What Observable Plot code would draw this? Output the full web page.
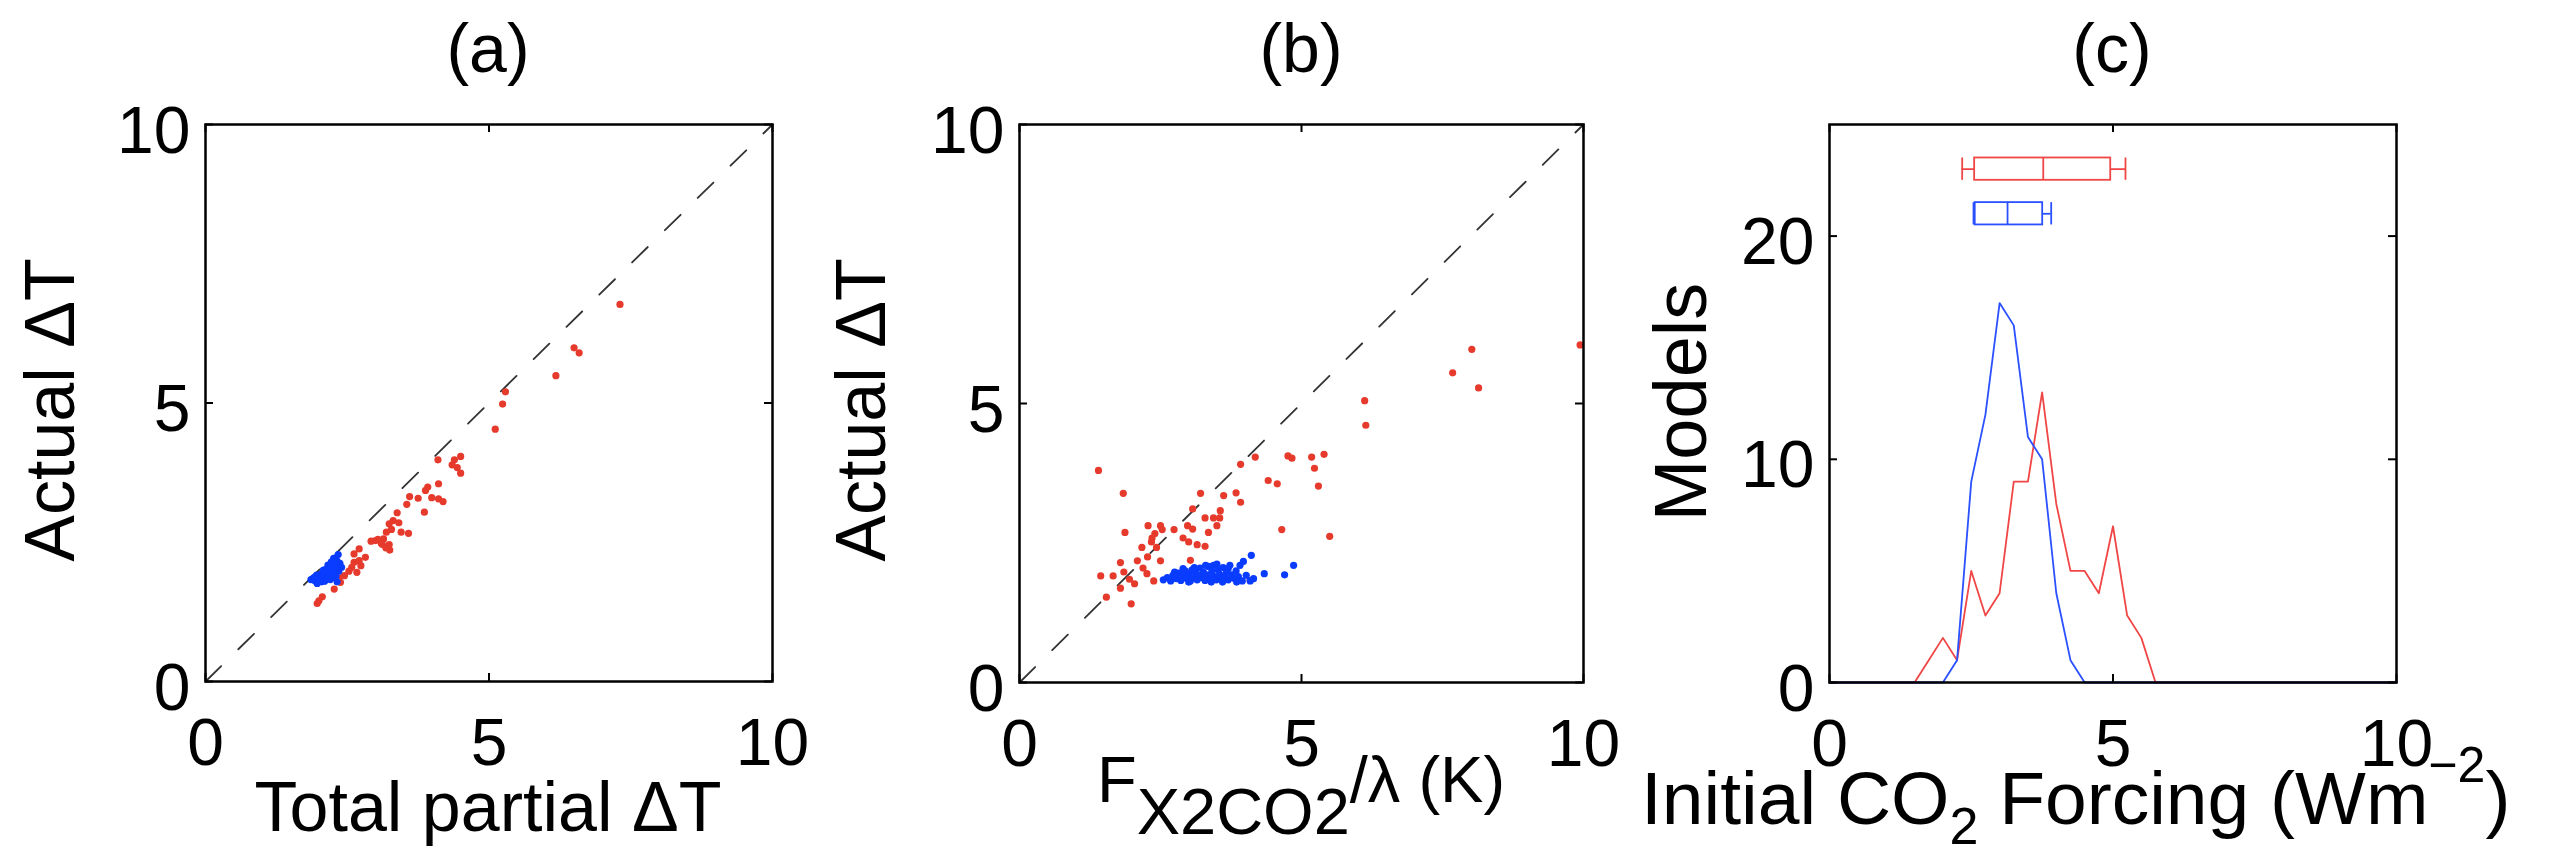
<!DOCTYPE html>
<html><head><meta charset="utf-8">
<script src="https://cdn.jsdelivr.net/npm/d3@7"></script>
<script src="https://cdn.jsdelivr.net/npm/@observablehq/plot@0.6"></script>
<style>
body{margin:0;background:#fff;}
#wrap{position:relative;width:2555px;height:855px;overflow:hidden;background:#fff;}
#wrap > svg{position:absolute;top:0;}
</style></head><body><div id="wrap"></div>
<script>
// ---------- data ----------
const axisTicks = [0, 5, 10];
const countTicks = [0, 10, 20];
const diag = [0, 10];

// panel (a): total partial dT vs actual dT
const redA = [[7.31,6.77],[6.50,5.99],[6.59,5.90],[6.18,5.49],[5.29,5.20],[5.24,4.98],[5.11,4.53],[4.10,3.98],[4.50,4.04],[4.39,3.98],[4.35,3.89],[4.44,3.84],[4.50,3.74],[3.92,3.49],[4.11,3.55],[3.99,3.30],[4.11,3.28],[4.19,3.23],[3.88,3.43],[3.75,3.29],[3.60,3.32],[3.55,3.18],[3.86,3.04],[3.38,3.03],[3.31,2.89],[3.24,2.83],[3.41,2.85],[3.28,2.73],[3.45,2.68],[3.58,2.66],[3.19,2.68],[3.14,2.56],[3.00,2.53],[3.10,2.48],[3.25,2.36],[3.24,2.46],[1.97,1.40],[2.06,1.52],[2.27,1.66],[2.38,1.78],[2.35,1.86],[2.53,1.98],[2.62,2.14],[2.71,2.17],[2.74,2.08],[2.67,1.96],[2.62,2.29],[2.71,2.38],[2.82,2.23],[2.92,2.52],[3.04,2.55],[3.12,2.46],[3.18,2.40],[2.00,1.45],[2.45,1.90],[2.58,2.05]];
const blueA = [[1.86,1.83],[1.90,1.85],[1.93,1.81],[1.95,1.88],[1.97,1.76],[1.98,1.84],[2.00,1.90],[2.02,1.82],[2.04,1.93],[2.06,1.87],[2.08,1.97],[2.10,1.89],[2.12,1.83],[2.13,2.02],[2.15,1.94],[2.17,2.06],[2.19,1.98],[2.20,2.10],[2.22,1.91],[2.24,2.13],[2.25,2.02],[2.27,2.17],[2.28,1.95],[2.30,2.22],[2.34,2.28],[2.33,2.07],[2.35,1.98],[2.37,2.12],[2.40,2.05],[2.32,1.79],[2.05,1.79],[2.10,1.80],[2.15,1.85],[2.20,1.83],[2.25,1.87],[2.30,1.89],[1.96,1.91],[2.08,2.00],[2.16,2.09],[2.22,2.15],[2.26,2.21],[2.18,1.90],[2.28,2.04],[2.32,2.16],[2.12,1.96],[2.04,1.86],[1.92,1.87]];

// panel (b): F_2xCO2/lambda vs actual dT
const redB = [[9.94,6.05],[8.02,5.97],[7.68,5.55],[8.14,5.28],[6.12,5.05],[6.14,4.61],[1.40,3.80],[4.18,4.04],[3.92,3.91],[4.76,4.06],[4.83,4.02],[5.18,4.04],[5.40,4.09],[5.23,3.84],[5.30,3.52],[4.41,3.62],[4.57,3.56],[1.84,3.39],[3.21,3.39],[3.62,3.35],[3.84,3.40],[3.92,3.23],[3.07,3.11],[3.56,3.08],[3.29,2.95],[3.44,2.95],[3.55,2.95],[3.50,2.81],[3.35,2.69],[2.74,2.74],[2.98,2.81],[3.07,2.75],[1.87,2.69],[2.28,2.81],[2.50,2.81],[2.53,2.74],[2.35,2.59],[2.40,2.67],[2.34,2.52],[2.90,2.59],[2.17,2.42],[2.43,2.42],[2.09,2.18],[2.27,2.25],[2.50,2.18],[1.79,2.15],[2.19,2.05],[3.03,2.19],[3.00,2.52],[3.15,2.47],[3.29,2.44],[4.65,2.74],[5.50,2.62],[1.44,1.91],[1.66,1.91],[1.85,1.98],[1.95,1.85],[2.04,1.77],[1.79,1.69],[1.54,1.53],[1.98,1.41],[4.09,1.83],[2.26,1.95],[2.38,1.82]];
const blueB = [[2.55,1.84],[2.62,1.88],[2.68,1.82],[2.72,1.92],[2.78,1.86],[2.82,1.96],[2.86,1.83],[2.90,1.90],[2.94,2.00],[2.97,1.86],[3.00,1.94],[3.03,1.82],[3.06,2.02],[3.09,1.88],[3.12,1.97],[3.15,1.84],[3.18,1.92],[3.20,2.05],[3.23,1.88],[3.26,1.98],[3.29,1.83],[3.32,1.93],[3.35,2.08],[3.38,1.87],[3.41,1.99],[3.44,2.10],[3.46,1.90],[3.49,1.84],[3.52,2.02],[3.55,1.94],[3.58,1.86],[3.61,2.06],[3.64,1.90],[3.67,1.98],[3.70,1.84],[3.73,2.10],[3.76,1.93],[3.80,1.87],[3.84,2.00],[3.88,1.90],[3.91,2.10],[3.95,1.82],[3.97,2.17],[4.02,1.92],[4.09,1.82],[4.11,2.28],[4.15,1.86],[4.34,1.95],[4.70,1.93],[4.86,2.10],[2.75,1.98],[3.10,2.06],[3.30,2.10],[3.50,2.12],[3.60,1.80],[3.00,1.80],[2.90,2.04],[3.70,2.04],[3.40,1.80],[3.85,1.80]];

// panel (c): histogram of initial CO2 forcing (W m-2)
const forcingBins = [0, 1.5, 1.75, 2.0, 2.25, 2.5, 2.75, 3.0, 3.25, 3.5, 3.75, 4.0, 4.25, 4.5, 4.75, 5.0, 5.25, 5.5, 5.75, 10];
const redCounts   = [0, 0, 1, 2, 1, 5, 3, 4, 9, 9, 13, 8, 5, 5, 4, 7, 3, 2, 0, 0];
const blueCounts  = [0, 0, 0, 0, 1, 9, 12, 17, 16, 11, 10, 4, 1, 0, 0, 0, 0, 0, 0, 0];

// box plots (whisker low, q1, median, q3, whisker high) and their row height
const boxNames  = ["red", "blue"];
const boxRow    = [23, 21];
const boxLo     = [2.34, 2.54];
const boxQ1     = [2.56, 2.57];
const boxMedian = [3.77, 3.14];
const boxQ3     = [4.96, 3.76];
const boxHi     = [5.22, 3.91];

// ---------- styles ----------
const RED_DOT = "#e63a2c", BLUE_DOT = "#0a3cff";
const RED_LINE = "#f04646", BLUE_LINE = "#2a50ff";
const FONT = "'Liberation Sans', Arial, Helvetica, sans-serif";
const TICK = 8;

function frameAxes(xt, yt, xd, yd) {
  const tk = {stroke: "#000", strokeWidth: 2};
  return [
    Plot.axisX(xt, {anchor: "bottom", tickSize: 0, tickPadding: 37, fontSize: 66, label: null, tickFormat: d => `${d}`}),
    Plot.axisY(yt, {anchor: "left", tickSize: 0, tickPadding: 15, fontSize: 66, label: null, dy: 7, tickFormat: d => `${d}`}),
    // inward ticks on all four sides
    Plot.ruleX(xt, {x: d => d, y1: yd[0], y2: yd[0], insetTop: -TICK, ...tk}),
    Plot.ruleX(xt, {x: d => d, y1: yd[1], y2: yd[1], insetBottom: -TICK, ...tk}),
    Plot.ruleY(yt, {y: d => d, x1: xd[0], x2: xd[0], insetRight: -TICK, ...tk}),
    Plot.ruleY(yt, {y: d => d, x1: xd[1], x2: xd[1], insetLeft: -TICK, ...tk}),
    Plot.frame({stroke: "#000", strokeWidth: 2.5})
  ];
}

const xDom = [0, 10], yDom = [0, 10], cDom = [0, 25];

function scatter(red, blue, geom) {
  return Plot.plot({
    width: geom.width, height: 855,
    marginLeft: geom.ml, marginRight: geom.mr, marginTop: 124, marginBottom: geom.mb,
    style: {fontFamily: FONT, color: "#000", background: "#fff"},
    x: {domain: xDom},
    y: {domain: yDom},
    marks: [
      Plot.line(diag, {x: d => d, y: d => d, stroke: "#333", strokeWidth: 1.8, strokeDasharray: "22,24"}),
      Plot.dot(red, {x: d => d[0], y: d => d[1], r: 3.6, fill: RED_DOT}),
      Plot.dot(blue, {x: d => d[0], y: d => d[1], r: 3.6, fill: BLUE_DOT}),
      ...frameAxes(axisTicks, axisTicks, xDom, yDom)
    ]
  });
}

const wrap = document.getElementById("wrap");

const pa = scatter(redA, blueA, {width: 850, ml: 205, mr: 78, mb: 174});
pa.style.left = "0px";
wrap.appendChild(pa);

const pb = scatter(redB, blueB, {width: 840, ml: 169, mr: 107, mb: 173});
pb.style.left = "850px";
wrap.appendChild(pb);

const boxes = boxNames.map((name, i) => ({name, row: boxRow[i], lo: boxLo[i], q1: boxQ1[i], med: boxMedian[i], q3: boxQ3[i], hi: boxHi[i]}));
function boxMarks(data, color) {
  const o = {stroke: color, strokeWidth: 1.8};
  return [
    Plot.rect(data, {x1: "q1", x2: "q3", y1: d => d.row - 0.5, y2: d => d.row + 0.5, fill: "none", ...o}),
    Plot.ruleX(data, {x: "med", y1: d => d.row - 0.5, y2: d => d.row + 0.5, ...o}),
    Plot.ruleY(data, {y: "row", x1: "lo", x2: "q1", ...o}),
    Plot.ruleY(data, {y: "row", x1: "q3", x2: "hi", ...o}),
    Plot.ruleX(data, {x: "lo", y1: d => d.row - 0.5, y2: d => d.row + 0.5, ...o}),
    Plot.ruleX(data, {x: "hi", y1: d => d.row - 0.5, y2: d => d.row + 0.5, ...o})
  ];
}

const pc = Plot.plot({
  width: 865, height: 855,
  marginLeft: 139, marginRight: 159, marginTop: 124, marginBottom: 173,
  style: {fontFamily: FONT, color: "#000", background: "#fff"},
  x: {domain: xDom},
  y: {domain: cDom},
  marks: [
    Plot.line(forcingBins, {x: d => d, y: (d, i) => redCounts[i], stroke: RED_LINE, strokeWidth: 1.8}),
    Plot.line(forcingBins, {x: d => d, y: (d, i) => blueCounts[i], stroke: BLUE_LINE, strokeWidth: 1.8}),
    ...boxMarks(boxes.filter(b => b.name === "red"), RED_LINE),
    ...boxMarks(boxes.filter(b => b.name === "blue"), BLUE_LINE),
    ...frameAxes(axisTicks, countTicks, xDom, cDom)
  ]
});
pc.style.left = "1690px";
wrap.appendChild(pc);

// ---------- titles and axis labels (overlay) ----------
const ov = d3.select(wrap).append("svg")
  .attr("width", 2555).attr("height", 855)
  .style("left", "0px").style("pointer-events", "none")
  .style("font-family", FONT).style("white-space", "pre");

const titles = [["(a)", 488], ["(b)", 1301], ["(c)", 2112]];
for (const [t, x] of titles) {
  ov.append("text").attr("x", x).attr("y", 72).attr("text-anchor", "middle").attr("font-size", 68).text(t);
}
ov.append("text").attr("x", 488).attr("y", 831).attr("text-anchor", "middle").attr("font-size", 70).text("Total partial ΔT");

const lb = ov.append("text").attr("x", 1301).attr("y", 802).attr("text-anchor", "middle").attr("font-size", 65);
lb.append("tspan").text("F");
lb.append("tspan").attr("dy", 32).text("X2CO2");
lb.append("tspan").attr("dy", -32).text("/λ (K)");

const lc = ov.append("text").attr("x", 1641).attr("y", 824).attr("font-size", 75);
lc.append("tspan").text("Initial CO");
lc.append("tspan").attr("dy", 20).attr("font-size", 52).text("2");
lc.append("tspan").attr("dy", -20).text(" Forcing (Wm");
lc.append("tspan").attr("dy", -42).attr("font-size", 50).text("−2");
lc.append("tspan").attr("dy", 42).text(")");

const ylabels = [["Actual ΔT", 74, 410, 70], ["Actual ΔT", 885, 410, 70], ["Models", 1706, 402, 74]];
for (const [t, x, y, fs] of ylabels) {
  ov.append("text").attr("transform", `translate(${x},${y}) rotate(-90)`).attr("text-anchor", "middle").attr("font-size", fs).text(t);
}
</script></body></html>
